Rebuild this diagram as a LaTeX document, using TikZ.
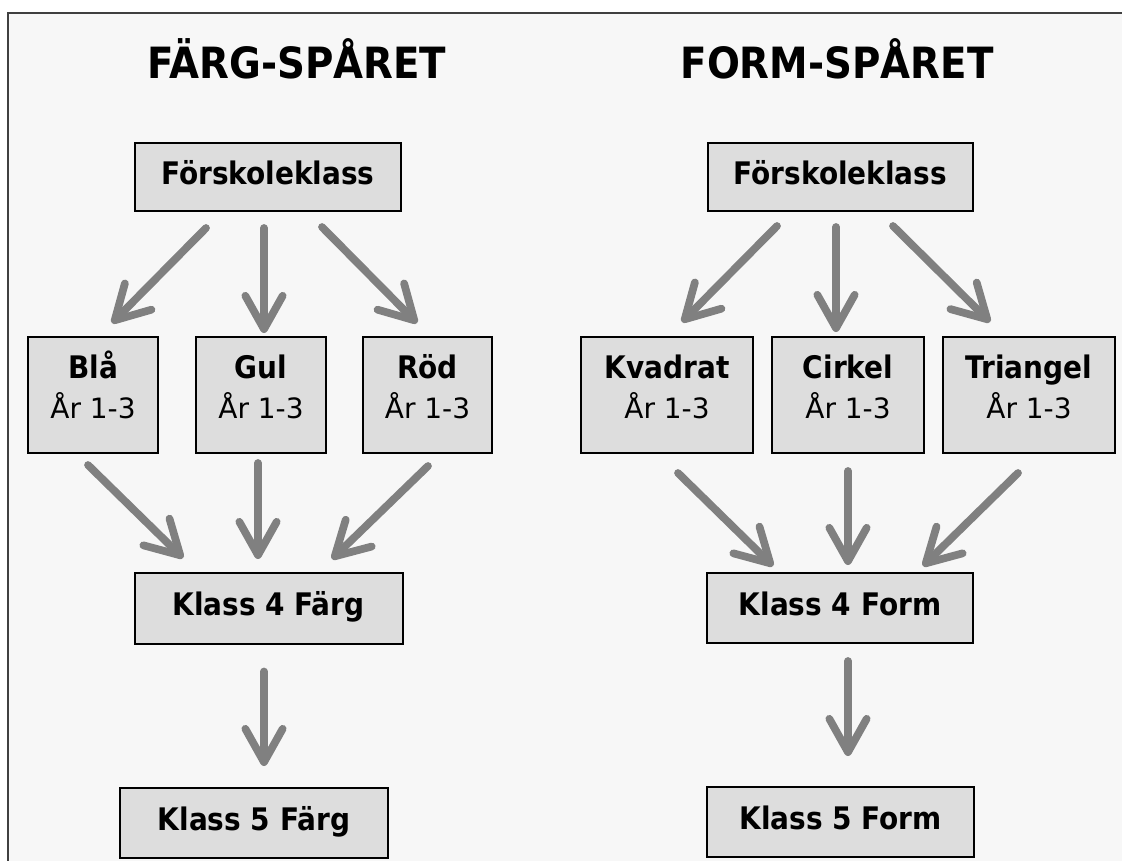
\documentclass[tikz,border=0pt]{standalone}
\usepackage{fontspec}
\setmainfont{DejaVu Sans}
\newfontfamily\condfont{DejaVu Sans Condensed}
\usetikzlibrary{arrows.meta,calc}
\definecolor{bgc}{HTML}{F7F7F7}
\definecolor{boxc}{HTML}{DDDDDD}
\definecolor{arrc}{HTML}{808080}
\definecolor{framec}{HTML}{404040}
\begin{document}
\begin{tikzpicture}[x=0.75pt,y=-0.75pt,
  title/.style={font=\condfont\bfseries\fontsize{32.3}{36}\selectfont, inner sep=0pt},
  box/.style={draw=black, line width=1.5pt, fill=boxc, inner sep=0pt, align=center,
    font=\condfont\bfseries\fontsize{23.3}{30}\selectfont},
  onebox/.style={box, text height=17pt, text depth=5.8pt},
  arr/.style={draw=arrc, line width=5.8pt, line cap=round,
    -{Straight Barb[length=25pt,width=28pt,round]}}]
\newcommand{\yrline}{\\{\normalfont\fontsize{21}{30}\selectfont År 1-3\rule[-26.25pt]{0pt}{0pt}}}
\newcommand{\topstrut}{\rule{0pt}{30.75pt}}
\useasboundingbox (0,0) rectangle (1122,861);
\fill[white] (0,0) rectangle (1122,861);
\fill[bgc] (8,13) rectangle (1122,861);
\draw[framec, line width=1.5pt] (8,861) -- (8,13) -- (1122,13);

% titles
\node[title, anchor=base] (t1) at (297,78) {FÄRG-SPÅRET};
\node[title, anchor=base] (t2) at (837,78) {FORM-SPÅRET};

% left track
\node[onebox, minimum width=199.5pt, minimum height=51pt] (fs) at (268,177) {Förskoleklass};
\node[box, anchor=north, minimum width=97.5pt] (bla) at (93,336) {\topstrut Blå\yrline};
\node[box, anchor=north, minimum width=97.5pt] (gul) at (261,336) {\topstrut Gul\yrline};
\node[box, anchor=north, minimum width=96.75pt] (rod) at (427.5,336) {\topstrut Röd\yrline};
\node[onebox, minimum width=201pt, minimum height=53.25pt] (k4f) at (268.5,608) {Klass 4 Färg};
\node[onebox, minimum width=201pt, minimum height=52.5pt] (k5f) at (254,823) {Klass 5 Färg};

% right track
\node[onebox, minimum width=198.75pt, minimum height=51pt] (ff) at (840.5,177) {Förskoleklass};
\node[box, anchor=north, minimum width=129pt] (kva) at (667,336) {\topstrut Kvadrat\yrline};
\node[box, anchor=north, minimum width=114pt] (cir) at (848,336) {\topstrut Cirkel\yrline};
\node[box, anchor=north, minimum width=129pt] (tri) at (1029,336) {\topstrut Triangel\yrline};
\node[onebox, minimum width=199.5pt, minimum height=52.5pt] (k4fo) at (840,608) {Klass 4 Form};
\node[onebox, minimum width=200.25pt, minimum height=52.5pt] (k5fo) at (840.5,822) {Klass 5 Form};

% arrows left
\draw[arr] ($(fs.south)+(-62,16)$) -- ($(bla.north)+(19,-13)$);
\draw[arr] ($(fs.south)+(-4,16)$) -- ($(gul.north)+(3,-3)$);
\draw[arr] ($(fs.south)+(54,15)$) -- ($(rod.north)+(-10.5,-13)$);
\draw[arr] ($(bla.south)+(-5,11)$) -- ($(k4f.north)+(-85.5,-13.5)$);
\draw[arr] ($(gul.south)+(-3,9)$) -- ($(k4f.north)+(-10.5,-12.5)$);
\draw[arr] ($(rod.south)+(0.5,12)$) -- ($(k4f.north)+(63.5,-12.5)$);
\draw[arr] ($(k4f.south)+(-4.5,27)$) -- ($(k5f.north)+(10,-21)$);

% arrows right
\draw[arr] ($(ff.south)+(-63.5,14)$) -- ($(kva.north)+(15,-14)$);
\draw[arr] ($(ff.south)+(-4.5,15)$) -- ($(cir.north)+(-12,-4)$);
\draw[arr] ($(ff.south)+(52.5,14)$) -- ($(tri.north)+(-39,-14)$);
\draw[arr] ($(kva.south)+(11,19)$) -- ($(k4fo.north)+(-67,-6)$);
\draw[arr] ($(cir.south)+(0,17)$) -- ($(k4fo.north)+(8,-7)$);
\draw[arr] ($(tri.south)+(-11,19)$) -- ($(k4fo.north)+(83,-6)$);
\draw[arr] ($(k4fo.south)+(8,17)$) -- ($(k5fo.north)+(7.5,-30)$);
\end{tikzpicture}
\end{document}
